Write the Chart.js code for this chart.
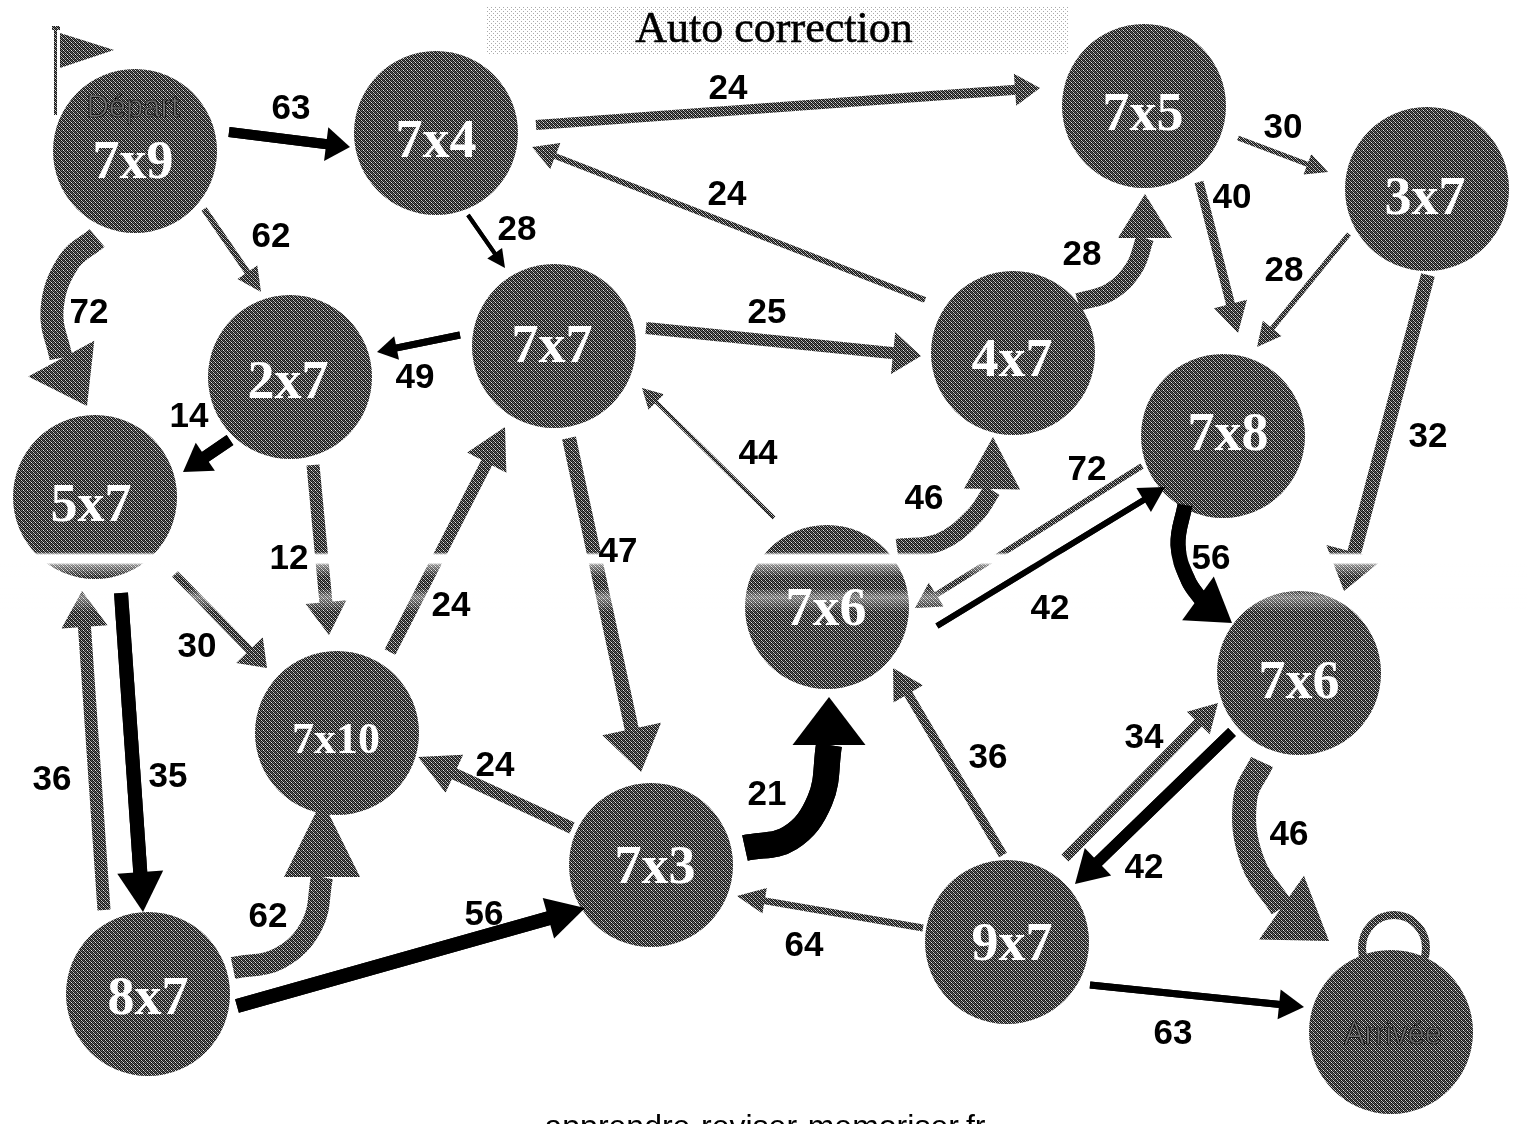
<!DOCTYPE html>
<html>
<head>
<meta charset="utf-8">
<title>Auto correction</title>
<script src="https://cdn.jsdelivr.net/npm/chart.js@4"></script>
<style>
  html, body { margin: 0; padding: 0; background: #fff; overflow: hidden; }
  canvas { display: block; }
</style>
</head>
<body>
<canvas id="board" width="1527" height="1124"></canvas>
<script>
// Nodes of the maze, in picture units
const nodeNames = ['7x9', '7x4', '7x5', '3x7', '7x7', '2x7', '4x7', '7x8', '5x7', '7x6', '7x6', '7x10', '7x3', '9x7', '8x7', ''];
const nodeX = [135, 436, 1144, 1427, 554, 290, 1013, 1223, 95, 827, 1299, 337, 651, 1007, 148, 1391];
const nodeY = [151, 133, 106, 189, 346, 377, 353, 436, 497, 607, 673, 733, 865, 942, 994, 1032];
const nodeTextX = [133, 436, 1143, 1425, 552, 288, 1012, 1228, 91, 826, 1299, 336, 655, 1012, 148, 1391];
const nodeTextY = [164, 143, 116, 200, 348, 384, 362, 436, 507, 611, 684, 742, 869, 946, 1000, 1036];

// Edges: path from start to arrow tip (curved ones also give bends and the head base)
const edgePaths = [
    [[229, 132], [350, 147]],
    [[536, 125], [1040, 88]],
    [[925, 300], [532, 147]],
    [[204, 209], [261, 292]],
    [[468, 215], [505, 268]],
    [[97, 238], [68, 263], [52, 310], [61, 358], [87, 406]],
    [[460, 335], [377, 352]],
    [[646, 328], [921, 356]],
    [[1078, 302], [1110, 292], [1134, 268], [1145, 238], [1145, 194]],
    [[1238, 138], [1328, 172]],
    [[1199, 182], [1238, 333]],
    [[1349, 234], [1257, 347]],
    [[1428, 275], [1344, 591]],
    [[1142, 466], [915, 608]],
    [[937, 626], [1165, 487]],
    [[1185, 505], [1178, 545], [1188, 580], [1203, 602], [1232, 623]],
    [[774, 518], [642, 388]],
    [[897, 548], [940, 542], [975, 515], [992, 490], [993, 437]],
    [[569, 438], [641, 772]],
    [[390, 652], [505, 427]],
    [[313, 465], [329, 635]],
    [[230, 440], [183, 472]],
    [[175, 574], [267, 668]],
    [[104, 910], [82, 591]],
    [[121, 593], [143, 912]],
    [[233, 968], [280, 958], [312, 925], [322, 877], [322, 800]],
    [[237, 1006], [585, 908]],
    [[572, 828], [418, 757]],
    [[745, 848], [790, 838], [820, 800], [829, 745], [829, 697]],
    [[1003, 855], [893, 668]],
    [[1065, 858], [1218, 703]],
    [[1232, 732], [1075, 884]],
    [[923, 928], [737, 896]],
    [[1090, 985], [1304, 1007]],
    [[1262, 762], [1245, 800], [1252, 860], [1282, 908], [1329, 941]]
];
const edgeDark = [1, 0, 0, 0, 1, 0, 1, 0, 0, 0, 0, 0, 0, 0, 1, 1, 0, 0, 0, 0, 0, 1, 0, 0, 1, 0, 1, 0, 1, 0, 0, 1, 0, 1, 0];

// Numbers written beside the edges
const labelText = ['63', '24', '30', '40', '24', '62', '28', '72', '28', '28', '25', '49', '14', '32', '44', '46', '72', '47', '12', '56', '24', '42', '30', '34', '36', '24', '36', '35', '21', '46', '42', '56', '62', '64', '63'];
const labelX = [291, 728, 1283, 1232, 727, 271, 517, 89, 1082, 1284, 767, 415, 189, 1428, 758, 924, 1087, 618, 289, 1211, 451, 1050, 197, 1144, 988, 495, 52, 168, 767, 1289, 1144, 484, 268, 804, 1173];
const labelY = [109, 89, 128, 198, 195, 237, 230, 313, 255, 271, 313, 378, 417, 437, 454, 499, 470, 552, 559, 559, 606, 609, 647, 738, 758, 766, 780, 777, 795, 835, 868, 915, 917, 946, 1034];

// Stroke and arrowhead sizes, same order as edgePaths
const edgeWidths = [10, 10, 6, 6, 4, 23, 7, 12, 18, 5, 9, 5, 14, 6, 6, 15, 4, 18, 14, 12, 13, 12, 8, 13, 14, 22, 14, 12, 26, 9, 10, 11, 7, 7, 24];
const headWidths = [34, 32, 28, 24, 18, 75, 24, 42, 54, 22, 34, 24, 58, 28, 28, 54, 22, 56, 60, 44, 41, 34, 37, 46, 46, 76, 42, 42, 73, 34, 32, 38, 26, 30, 78];
const headLengths = [24, 25, 25, 24, 18, 54, 20, 28, 44, 22, 30, 24, 40, 25, 25, 42, 20, 52, 44, 40, 33, 27, 25, 36, 40, 77, 38, 40, 48, 30, 28, 32, 28, 25, 58];
const NODE_R = 82;
const BLACK = '#000';
const SERIF = '"Liberation Serif", serif';
const SANS = '"Liberation Sans", Arial, sans-serif';

// Dithered grey and stipple tiles (the original is a scan printed in halftone)
function makeTile(rows) {
    const c = document.createElement('canvas');
    c.width = rows[0].length;
    c.height = rows.length;
    const g = c.getContext('2d');
    rows.forEach((row, y) => row.forEach((v, x) => {
        g.fillStyle = `rgb(${v},${v},${v})`;
        g.fillRect(x, y, 1, 1);
    }));
    return document.getElementById('board').getContext('2d').createPattern(c, 'repeat');
}

const greyFill = makeTile([
    [20, 200, 20, 90],
    [90, 20, 170, 20],
    [20, 120, 20, 230],
    [150, 20, 90, 20]
]);
const stippleFill = makeTile([
    [255, 255, 255, 255],
    [255, 170, 255, 255],
    [255, 255, 255, 255],
    [255, 255, 255, 170]
]);

// Decorations that are not data marks: title, flag, handle, heads, scan bands, texts
const boardDecor = {
    id: 'boardDecor',
    beforeDatasetsDraw(chart) {
        const { ctx, scales } = chart;
        const px = v => scales.x.getPixelForValue(v);
        const py = v => scales.y.getPixelForValue(v);
        ctx.save();
        // title box
        ctx.fillStyle = stippleFill;
        ctx.fillRect(px(486), py(6), 582, 48);
        // flag
        ctx.fillStyle = greyFill;
        ctx.fillRect(px(54), py(27), 3, 88);
        ctx.fillRect(px(52), py(26), 8, 4);
        ctx.beginPath();
        ctx.moveTo(px(60), py(33));
        ctx.lineTo(px(114), py(50));
        ctx.lineTo(px(60), py(68));
        ctx.closePath();
        ctx.fill();
        // handle of the arrival weight
        ctx.strokeStyle = greyFill;
        ctx.lineWidth = 8;
        ctx.beginPath();
        ctx.ellipse(px(1394), py(948), 32, 33, 0, 0, Math.PI * 2);
        ctx.stroke();
        ctx.restore();
    },
    afterDatasetsDraw(chart) {
        const { ctx, scales, width } = chart;
        const px = v => scales.x.getPixelForValue(v);
        const py = v => scales.y.getPixelForValue(v);

        const drawHeads = wantDark => edgePaths.forEach((path, i) => {
            if (!!edgeDark[i] !== wantDark) return;
            const tip = path[path.length - 1];
            const prev = path[path.length - 2];
            const dx = tip[0] - prev[0], dy = tip[1] - prev[1];
            const d = Math.hypot(dx, dy);
            const ux = dx / d, uy = dy / d;
            const bx = tip[0] - ux * headLengths[i], by = tip[1] - uy * headLengths[i];
            const hw = headWidths[i] / 2;
            ctx.fillStyle = wantDark ? BLACK : greyFill;
            ctx.beginPath();
            ctx.moveTo(px(tip[0]), py(tip[1]));
            ctx.lineTo(px(bx - uy * hw), py(by + ux * hw));
            ctx.lineTo(px(bx + uy * hw), py(by - ux * hw));
            ctx.closePath();
            ctx.fill();
        });

        ctx.save();
        drawHeads(false);

        // pale scan bands crossing the page: they only wash out the dithered greys
        const g = ctx.createLinearGradient(0, py(552), 0, py(612));
        g.addColorStop(0, 'rgba(255,255,255,0)');
        g.addColorStop(0.05, 'rgba(255,255,255,1)');
        g.addColorStop(0.18, 'rgba(255,255,255,1)');
        g.addColorStop(0.22, 'rgba(255,255,255,0.45)');
        g.addColorStop(0.42, 'rgba(255,255,255,0)');
        g.addColorStop(0.6, 'rgba(255,255,255,0)');
        g.addColorStop(0.75, 'rgba(255,255,255,0.4)');
        g.addColorStop(1, 'rgba(255,255,255,0)');
        ctx.fillStyle = g;
        ctx.fillRect(0, py(552), width, 60);

        // black arrows go back on top of the bands
        edgeDark.forEach((dark, i) => {
            if (dark) chart.getDatasetMeta(i + 1).controller.draw();
        });
        drawHeads(true);

        ctx.textAlign = 'center';
        ctx.textBaseline = 'middle';

        // node multiplications
        ctx.fillStyle = '#fff';
        nodeNames.forEach((name, i) => {
            ctx.font = `bold ${name === '7x10' ? 44 : 54}px ${SERIF}`;
            ctx.fillText(name, px(nodeTextX[i]), py(nodeTextY[i]));
        });

        // Départ / Arrivée
        ctx.font = `31px ${SANS}`;
        ctx.lineWidth = 0.7;
        ctx.strokeStyle = '#000';
        ctx.fillStyle = '#6e6e6e';
        ctx.fillText('Départ', px(133), py(108));
        ctx.strokeText('Départ', px(133), py(108));
        ctx.fillText('Arrivée', px(1393), py(1035));
        ctx.strokeText('Arrivée', px(1393), py(1035));

        // edge numbers
        ctx.fillStyle = '#000';
        ctx.font = `bold 35px ${SANS}`;
        labelText.forEach((t, i) => ctx.fillText(t, px(labelX[i]), py(labelY[i])));

        // title and footer
        ctx.textBaseline = 'alphabetic';
        ctx.font = `44px ${SERIF}`;
        ctx.strokeStyle = '#000';
        ctx.lineWidth = 0.6;
        ctx.fillText('Auto correction', px(774), py(42));
        ctx.strokeText('Auto correction', px(774), py(42));
        ctx.font = `32px ${SANS}`;
        ctx.fillText('apprendre-reviser-memoriser.fr', px(765), py(1137));
        ctx.restore();
    }
};

function buildEdgeDatasets() {
    return edgePaths.map((path, i) => {
        let shaft;
        if (path.length === 2) {
            const [a, tip] = path;
            const d = Math.hypot(tip[0] - a[0], tip[1] - a[1]);
            const t = (d - headLengths[i] + 1) / d;
            shaft = [a, [a[0] + (tip[0] - a[0]) * t, a[1] + (tip[1] - a[1]) * t]];
        } else {
            shaft = path.slice(0, -1);
        }
        return {
            type: 'scatter',
            showLine: true,
            data: shaft.map(p => ({ x: p[0], y: p[1] })),
            borderColor: edgeDark[i] ? BLACK : greyFill,
            borderWidth: edgeWidths[i],
            borderCapStyle: 'butt',
            tension: path.length > 2 ? 0.4 : 0,
            pointRadius: 0,
            fill: false,
            clip: false
        };
    });
}

document.addEventListener('DOMContentLoaded', () => {
    const nodeDataset = {
        type: 'bubble',
        data: nodeX.map((x, i) => ({ x, y: nodeY[i], r: NODE_R })),
        backgroundColor: greyFill,
        borderWidth: 0,
        clip: false
    };

    new Chart(document.getElementById('board'), {
        type: 'scatter',
        data: { datasets: [nodeDataset, ...buildEdgeDatasets()] },
        options: {
            responsive: false,
            animation: false,
            devicePixelRatio: 1,
            layout: { padding: 0, autoPadding: false },
            scales: {
                x: { type: 'linear', min: 0, max: 1527, display: false },
                y: { type: 'linear', min: 0, max: 1124, reverse: true, display: false }
            },
            plugins: {
                legend: { display: false },
                title: { display: false },
                tooltip: { enabled: false }
            }
        },
        plugins: [boardDecor]
    });
});
</script>
</body>
</html>
